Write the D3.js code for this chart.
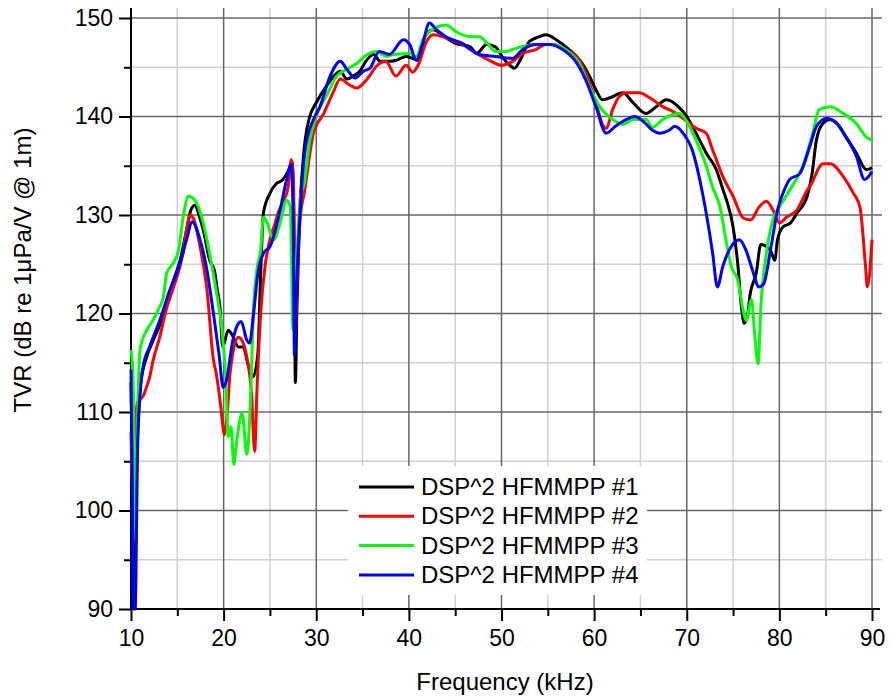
<!DOCTYPE html>
<html>
<head>
<meta charset="utf-8">
<script src="https://cdn.jsdelivr.net/npm/d3@7"></script>
<style>
  body { margin: 0; background: #fff; }
  text { font-family: Arial, "Liberation Sans", sans-serif; fill: #000; }
</style>
</head>
<body>
<div class="chart"></div>
<script>
// TVR curves, [frequency kHz, dB]
var dsp1 = [[10.0,113],[10.2,100],[10.35,92],[10.6,104],[11.0,112.6],[11.7,115.6],[12.4,117.3],[13.5,119.7],[14.6,123.4],[15.3,125.4],[16.0,128.5],[16.5,130.6],[16.9,131],[17.4,129.8],[17.8,128.5],[18.5,125.4],[19.0,124.4],[19.3,122.5],[19.6,120.7],[19.9,116.6],[20.5,118.3],[21.0,117.7],[21.6,116.6],[22.1,116.6],[22.7,114.6],[23.2,113.6],[23.7,116],[24.0,124],[24.3,130.2],[25.0,132.2],[25.7,133.2],[26.3,133.5],[27.0,134.5],[27.4,135.4],[27.6,128],[27.75,113],[27.9,120],[28.2,130],[28.5,134.5],[28.8,137.6],[29.3,140],[30.0,141.4],[31.1,143.1],[31.9,144.1],[32.6,144.6],[33.3,143.8],[34.0,144.1],[34.7,144.6],[35.5,145.8],[36.2,146.3],[36.9,145.6],[38.0,145.6],[38.6,145.7],[39.7,146.1],[40.4,145.9],[41.0,145.7],[41.7,148.1],[42.6,148.8],[44.0,148.0],[45.1,147.4],[46.6,147.1],[47.3,146.4],[48.4,147.3],[49.3,147.1],[50.2,145.9],[50.9,145.2],[51.4,144.9],[52.0,145.7],[53.0,147.6],[54.1,148.1],[54.8,148.3],[55.9,147.8],[57.3,146.8],[58.7,145.4],[59.5,144.1],[60.2,142.7],[60.9,141.7],[61.7,141.9],[63.1,142.4],[64.2,141.4],[65.6,140.3],[66.7,141],[67.8,141.7],[69.2,140.9],[70.0,140],[71.0,138.3],[72.1,136.3],[73.2,134.6],[73.9,132.6],[74.3,131.5],[75.0,128.8],[75.5,125.1],[75.9,120.7],[76.2,119],[76.6,120],[76.8,121.7],[77.5,124.1],[78.0,127],[78.6,126.8],[79.1,126.3],[79.5,125.4],[79.8,127.5],[80.4,128.8],[81.2,129.2],[81.9,130.2],[83.0,131.9],[83.5,134],[84.0,137.6],[84.7,139.3],[85.5,139.7],[86.2,139.3],[87.2,137.9],[88.3,136.3],[89.4,134.6],[90.0,134.8]];

var dsp2 = [[10.0,108],[10.15,103],[10.4,108],[10.7,111],[11.0,111.3],[11.4,111.8],[11.7,112.6],[12.0,113.5],[12.4,115.3],[13.1,117.6],[13.8,120.4],[14.6,122.7],[15.6,126.1],[16.0,128.5],[16.4,130],[16.8,129.5],[17.45,126.8],[18.2,122.4],[18.9,115.3],[19.2,113.9],[19.7,110.5],[20.0,108],[20.1,107.7],[20.4,110],[20.7,114],[21.6,117.6],[21.9,117.4],[22.5,115.6],[23.0,112],[23.35,106],[23.6,112.2],[24.0,120],[24.5,125],[25.0,127.5],[25.5,129],[26.0,130.5],[26.5,131.5],[27.0,133],[27.3,135.6],[27.55,133],[27.75,118],[27.95,124],[28.3,130],[28.7,132.2],[29.7,138.3],[30.8,140.3],[31.8,142.4],[32.6,143.8],[33.6,143.2],[34.4,142.9],[35.5,143.8],[36.5,145.1],[37.5,145.6],[38.6,144.1],[39.7,145.2],[40.4,144.5],[41.0,145.2],[41.9,147.6],[42.6,148.3],[44.0,148.0],[45.8,147.3],[47.3,146.4],[48.7,145.7],[50.0,145.2],[51.2,145.6],[52.3,146.4],[53.7,146.8],[54.8,147.3],[55.5,147.3],[56.9,146.8],[58.4,145.7],[59.5,143.4],[60.4,140.7],[60.9,139.2],[61.3,138.8],[62.0,140.7],[62.7,142.0],[63.5,142.4],[64.9,142.4],[66.0,141.9],[67.4,141.0],[68.9,140.3],[70.0,139.5],[71.0,138.8],[72.1,138.3],[72.8,136.6],[73.9,133.9],[75.0,131.9],[76.1,129.7],[76.9,129.5],[77.8,130.8],[78.6,131.4],[79.3,130.5],[80.0,129.2],[80.8,129.8],[81.9,130.5],[83.0,132.5],[83.3,132.9],[84.7,135.2],[85.5,135.2],[86.9,133.9],[88.0,132.2],[88.7,130.8],[89.3,124.8],[89.5,122.7],[90.0,127.5]];

var dsp3 = [[10.0,116.3],[10.2,114],[10.45,100],[10.55,96.7],[10.7,108],[11.0,116.5],[11.7,118.3],[12.3,119.2],[13.0,120.5],[13.5,121.7],[13.85,124.1],[14.4,124.9],[15.1,126.3],[15.7,130.2],[16.2,131.9],[16.9,131.5],[17.8,129.2],[18.5,126],[19.2,122.3],[19.8,118.5],[20.2,114],[20.5,107.5],[20.8,108.5],[21.1,104.7],[21.4,106.9],[22.0,109.9],[22.5,105.7],[22.9,111.2],[23.2,120],[23.6,124.5],[24.0,126.5],[24.3,129.8],[24.7,129.2],[25.4,127.5],[26.1,129.2],[26.8,131.5],[27.2,130.8],[27.5,118.3],[27.7,122],[28.3,131.9],[28.7,133.2],[29.3,137.6],[30.0,140],[31.1,142.1],[32.2,144.1],[33.3,144.8],[34.4,145.4],[35.5,146.3],[36.5,146.6],[37.6,146.1],[38.3,146.3],[40.1,146.4],[40.8,146.1],[41.5,147.8],[42.2,148.6],[44.0,149.3],[45.1,148.6],[46.6,148.1],[47.6,148.1],[48.5,147.4],[49.4,146.6],[50.5,146.6],[51.2,146.8],[52.3,147.1],[54.1,147.3],[55.5,147.3],[56.9,146.8],[58.4,145.4],[59.5,143],[60.6,141],[62.0,139.7],[63.1,139.2],[64.2,139.7],[65.6,139.7],[66.3,138.9],[67.4,139.7],[68.5,140.2],[69.2,140.3],[70.0,139.5],[71.0,137.6],[72.1,135],[72.8,132.8],[73.6,130.8],[74.3,127.1],[74.8,124.8],[75.5,123.4],[76.1,120.3],[76.4,119.3],[77.0,121.4],[77.3,118.3],[77.7,114.9],[78.0,120.7],[78.6,126.1],[79.3,129.5],[80.0,130.8],[81.1,132.5],[82.5,134.9],[83.6,138.3],[84.3,140.7],[85.5,141],[86.9,140.3],[88.3,139.3],[89.4,137.9],[90.0,137.6]];

var dsp4 = [[10.0,114.3],[10.15,102],[10.25,90],[10.45,90],[10.7,106],[11.0,112],[11.3,114.6],[12.0,116.6],[13.1,119.3],[14.2,122.4],[15.3,125.1],[16.0,127.5],[16.6,129.3],[17.45,127.5],[18.2,124.4],[18.9,120],[19.5,115.9],[19.95,112.5],[20.3,113.2],[21.0,117.3],[21.6,119],[21.9,119.2],[22.5,117.3],[22.8,117],[23.2,119.7],[23.7,124.1],[24.3,126.1],[25.0,126.8],[25.4,127.8],[26.1,130.5],[26.8,133.6],[27.3,135.1],[27.5,130],[27.65,115.8],[27.85,122],[28.3,131],[28.8,136.6],[29.7,139.7],[30.4,141],[31.5,144.1],[32.6,145.6],[33.3,144.8],[34.2,143.9],[35.1,144.6],[35.8,144.9],[36.8,146.6],[37.9,146.3],[39.4,147.8],[40.1,147.3],[40.8,145.7],[41.5,147.4],[42.2,149.5],[43.0,148.8],[44.0,148.1],[45.8,147.4],[47.6,146.3],[49.4,146.1],[51.2,145.9],[52.3,146.8],[53.7,147.3],[55.2,147.3],[56.6,146.8],[58.0,145.6],[59.1,143.7],[60.2,141],[61.3,138.3],[62.3,139],[63.5,139.7],[64.4,140],[65.3,139.5],[66.3,138.6],[67.1,138.3],[68.1,138.6],[68.7,139],[69.6,138.3],[70.7,136.3],[71.4,133.6],[72.1,130.2],[72.8,126.1],[73.3,122.7],[73.9,124.8],[74.8,126.8],[75.7,127.5],[76.4,126.4],[77.1,124.4],[77.8,122.7],[78.3,123],[79.1,126.8],[79.8,130.5],[80.7,132.9],[81.1,133.6],[82.2,134.2],[83.3,137],[84.0,139],[85.1,139.8],[86.2,139.3],[87.2,137.9],[88.3,136],[89.2,133.6],[90.0,134.4]];

var names = ["DSP^2 HFMMPP #1", "DSP^2 HFMMPP #2", "DSP^2 HFMMPP #3", "DSP^2 HFMMPP #4"];
var colors = ["#000000", "#ff0000", "#00ff00", "#0000ff"];
var xMajor = [10, 20, 30, 40, 50, 60, 70, 80, 90];
var xMinor = [15, 25, 35, 45, 55, 65, 75, 85];
var yMajor = [90, 100, 110, 120, 130, 140, 150];
var yMinor = [95, 105, 115, 125, 135, 145];

var width = 891, height = 700;
// plot box (don't use "top" as a global, it clashes with window.top)
var pLeft = 131, pRight = 872, pTop = 18, pBottom = 609;

var svg = d3.select(".chart")
  .append("svg")
  .attr("width", width)
  .attr("height", height);

var x = d3.scaleLinear().domain([10, 90]).range([pLeft, pRight]);
var y = d3.scaleLinear().domain([90, 150]).range([pBottom, pTop]);

// grid, minor first then major on top
var grid = svg.append("g");
grid.selectAll(".vminor").data(xMinor).enter().append("line")
  .attr("x1", d => x(d)).attr("x2", d => x(d))
  .attr("y1", pTop - 10).attr("y2", pBottom)
  .attr("stroke", "#d0d0d0").attr("stroke-width", 1.5);
grid.selectAll(".hminor").data(yMinor).enter().append("line")
  .attr("x1", pLeft).attr("x2", pRight + 10)
  .attr("y1", d => y(d)).attr("y2", d => y(d))
  .attr("stroke", "#d0d0d0").attr("stroke-width", 1.5);
grid.selectAll(".vmajor").data(xMajor.slice(1)).enter().append("line")
  .attr("x1", d => x(d)).attr("x2", d => x(d))
  .attr("y1", pTop - 10).attr("y2", pBottom)
  .attr("stroke", "#666").attr("stroke-width", 1.5);
grid.selectAll(".hmajor").data(yMajor.slice(1)).enter().append("line")
  .attr("x1", pLeft).attr("x2", pRight + 10)
  .attr("y1", d => y(d)).attr("y2", d => y(d))
  .attr("stroke", "#666").attr("stroke-width", 1.5);

// axes
svg.append("g")
  .attr("transform", "translate(0," + pBottom + ")")
  .call(d3.axisBottom(x).tickValues(xMajor).tickSize(12).tickPadding(9).tickFormat(d3.format("d")));
svg.append("g")
  .attr("transform", "translate(0," + pBottom + ")")
  .call(d3.axisBottom(x).tickValues(xMinor).tickSize(7).tickFormat(""));
svg.append("g")
  .attr("transform", "translate(" + pLeft + ",0)")
  .call(d3.axisLeft(y).tickValues(yMajor).tickSize(12).tickPadding(6).tickFormat(d3.format("d")));
svg.append("g")
  .attr("transform", "translate(" + pLeft + ",0)")
  .call(d3.axisLeft(y).tickValues(yMinor).tickSize(7).tickFormat(""));

svg.selectAll(".domain").remove();
svg.selectAll(".tick line").attr("stroke", "#000").attr("stroke-width", 2);
svg.selectAll(".tick text")
  .style("font-size", "23px")
  .style("font-family", "Arial, 'Liberation Sans', sans-serif")
  .attr("fill", "#000");

svg.append("line")
  .attr("x1", pLeft).attr("x2", pRight + 8)
  .attr("y1", pBottom).attr("y2", pBottom)
  .attr("stroke", "#000").attr("stroke-width", 2);
svg.append("line")
  .attr("x1", pLeft).attr("x2", pLeft)
  .attr("y1", pTop - 10).attr("y2", pBottom + 1)
  .attr("stroke", "#000").attr("stroke-width", 2);

// curves
var line = d3.line()
  .x(d => x(d[0]))
  .y(d => y(d[1]))
  .curve(d3.curveMonotoneX);

var series = [dsp1, dsp2, dsp3, dsp4];
svg.append("g").selectAll("path")
  .data(series)
  .enter().append("path")
  .attr("d", line)
  .attr("fill", "none")
  .attr("stroke", (d, i) => colors[i])
  .attr("stroke-width", 3)
  .attr("stroke-linejoin", "round");

// legend
var legend = svg.append("g");
legend.append("rect")
  .attr("x", 348).attr("y", 466)
  .attr("width", 299).attr("height", 129)
  .attr("fill", "#fff");
names.forEach(function (n, i) {
  var ly = 487 + i * 29.3;
  legend.append("line")
    .attr("x1", 359).attr("x2", 414)
    .attr("y1", ly).attr("y2", ly)
    .attr("stroke", colors[i]).attr("stroke-width", 3);
  legend.append("text")
    .attr("x", 421).attr("y", ly + 8)
    .style("font-size", "24px")
    .text(n);
});

// axis titles
svg.append("text")
  .attr("x", 505).attr("y", 690)
  .attr("text-anchor", "middle")
  .style("font-size", "24px")
  .text("Frequency (kHz)");
svg.append("text")
  .attr("transform", "translate(31,270) rotate(-90)")
  .attr("text-anchor", "middle")
  .style("font-size", "24px")
  .text("TVR (dB re 1\u03bcPa/V @ 1m)");
</script>
</body>
</html>
